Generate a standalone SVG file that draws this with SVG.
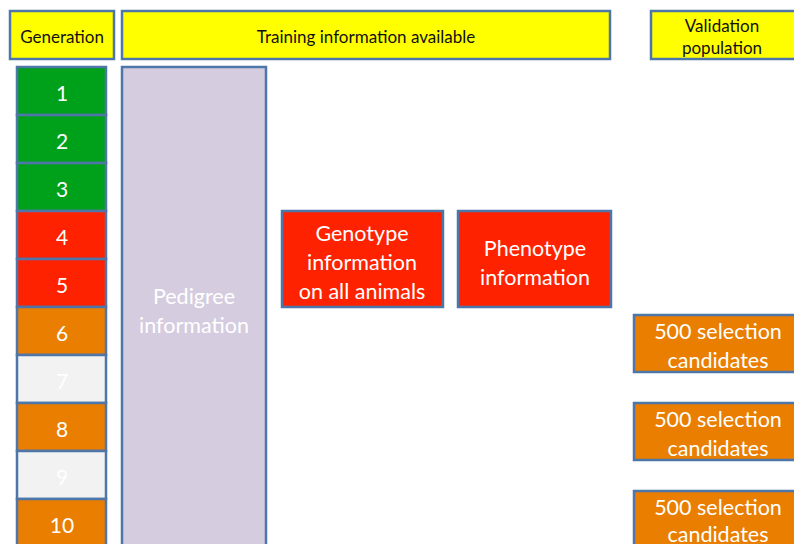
<svg xmlns="http://www.w3.org/2000/svg" width="794" height="544" viewBox="0 0 794 544">
<style>
rect{stroke:#4f76a8;stroke-width:2.5}
rect.bg{fill:#fff;stroke:none}
.y{fill:#ffff00}
.g{fill:#00a11a}
.r{fill:#ff2200}
.o{fill:#e97e00}
.w{fill:#f2f2f2}
.p{fill:#d5cce0}
text{font-family:Lato,"Open Sans","Liberation Sans",sans-serif;text-anchor:middle;dominant-baseline:central}
.h{font-size:17px;fill:#111}
.n{font-size:21px;fill:#fff}
.b{font-size:21.5px;fill:#fff}
</style>
<rect class="bg" width="794" height="544"/>
<g id="hdr-generation"><rect class="y" x="10" y="11" width="104" height="48"/><text class="h" x="62" y="36">Generation</text></g>
<g id="hdr-training"><rect class="y" x="122" y="11" width="488" height="48"/><text class="h" x="366" y="36">Training information available</text></g>
<g id="hdr-validation"><rect class="y" x="651" y="11" width="150" height="48"/><text class="h" x="722" y="25">Validation</text><text class="h" x="722" y="47">population</text></g>
<g id="gen1"><rect class="g" x="17" y="67" width="89" height="48"/><text class="n" x="62" y="92">1</text></g>
<g id="gen2"><rect class="g" x="17" y="115" width="89" height="48"/><text class="n" x="62" y="140">2</text></g>
<g id="gen3"><rect class="g" x="17" y="163" width="89" height="48"/><text class="n" x="62" y="188">3</text></g>
<g id="gen4"><rect class="r" x="17" y="211" width="89" height="48"/><text class="n" x="62" y="236">4</text></g>
<g id="gen5"><rect class="r" x="17" y="259" width="89" height="48"/><text class="n" x="62" y="284">5</text></g>
<g id="gen6"><rect class="o" x="17" y="307" width="89" height="48"/><text class="n" x="62" y="332">6</text></g>
<g id="gen7"><rect class="w" x="17" y="355" width="89" height="48"/><text class="n" x="62" y="380">7</text></g>
<g id="gen8"><rect class="o" x="17" y="403" width="89" height="48"/><text class="n" x="62" y="428">8</text></g>
<g id="gen9"><rect class="w" x="17" y="451" width="89" height="48"/><text class="n" x="62" y="476">9</text></g>
<g id="gen10"><rect class="o" x="17" y="499" width="89" height="60"/><text class="n" x="62" y="524">10</text></g>
<g id="pedigree"><rect class="p" x="122" y="67" width="144" height="500"/><text class="b" x="194" y="296">Pedigree</text><text class="b" x="194" y="325">information</text></g>
<g id="genotype"><rect class="r" x="282" y="211" width="161" height="96"/><text class="b" x="362" y="233">Genotype</text><text class="b" x="362" y="262">information</text><text class="b" x="362" y="291">on all animals</text></g>
<g id="phenotype"><rect class="r" x="458" y="211" width="153" height="96"/><text class="b" x="535" y="248">Phenotype</text><text class="b" x="535" y="277">information</text></g>
<g id="cand1"><rect class="o" x="634" y="315" width="170" height="57"/><text class="b" x="718" y="331">500 selection</text><text class="b" x="718" y="360">candidates</text></g>
<g id="cand2"><rect class="o" x="634" y="403" width="170" height="57"/><text class="b" x="718" y="419">500 selection</text><text class="b" x="718" y="448">candidates</text></g>
<g id="cand3"><rect class="o" x="634" y="491" width="170" height="70"/><text class="b" x="718" y="507">500 selection</text><text class="b" x="718" y="534">candidates</text></g>
<g id="connectors"></g>
</svg>
